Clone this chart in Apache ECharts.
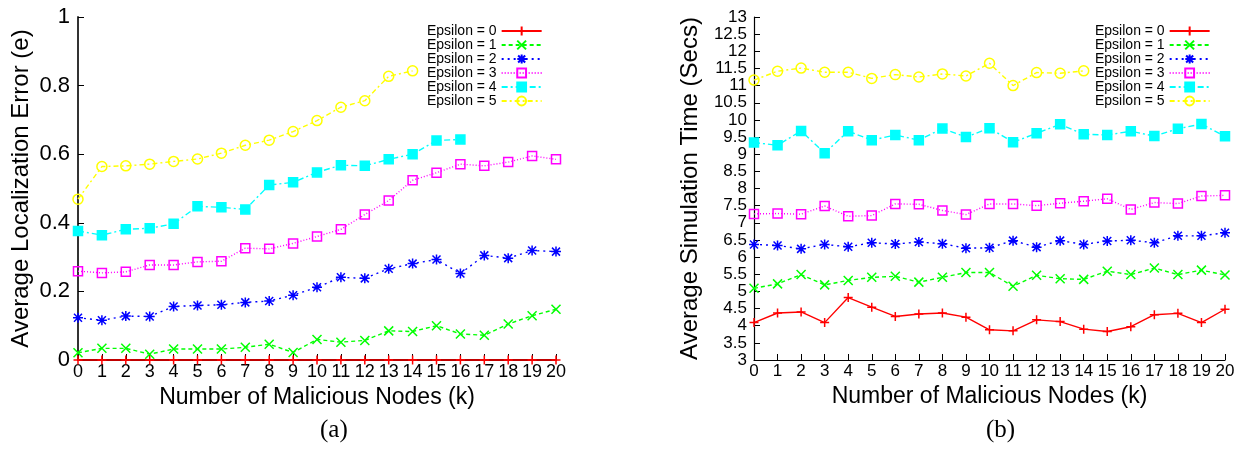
<!DOCTYPE html>
<html>
<head>
<meta charset="utf-8">
<script src="https://cdn.jsdelivr.net/npm/echarts@6/dist/echarts.min.js"></script>
<style>
html,body{margin:0;padding:0;background:#fff;}
#chart{width:1247px;height:452px;}
</style>
</head>
<body>
<div id="chart"></div>
<script>
// x = number of malicious nodes (k)
var nodesK = [0,1,2,3,4,5,6,7,8,9,10,11,12,13,14,15,16,17,18,19,20];
var seriesNames = ['Epsilon = 0','Epsilon = 1','Epsilon = 2','Epsilon = 3','Epsilon = 4','Epsilon = 5'];

// (a) average localization error
var errEps0 = [0,0,0,0,0,0,0,0,0,0,0,0,0,0,0,0,0,0,0,0,0];
var errEps1 = [0.021,0.034,0.034,0.017,0.032,0.032,0.032,0.037,0.046,0.022,0.060,0.052,0.057,0.085,0.083,0.100,0.076,0.072,0.105,0.129,0.148];
var errEps2 = [0.123,0.116,0.128,0.127,0.156,0.159,0.161,0.168,0.172,0.189,0.212,0.241,0.238,0.266,0.281,0.293,0.252,0.305,0.297,0.319,0.316];
var errEps3 = [0.259,0.254,0.257,0.277,0.277,0.286,0.288,0.326,0.324,0.340,0.360,0.381,0.424,0.465,0.524,0.546,0.571,0.566,0.577,0.595,0.585];
var errEps4 = [0.376,0.364,0.381,0.384,0.397,0.448,0.445,0.439,0.510,0.518,0.547,0.568,0.566,0.585,0.600,0.640,0.643];
var errEps5 = [0.469,0.564,0.566,0.571,0.579,0.586,0.603,0.626,0.641,0.666,0.698,0.737,0.756,0.827,0.843];

// (b) average simulation time (secs)
var timeEps0 = [4.09,4.37,4.40,4.09,4.82,4.54,4.27,4.34,4.37,4.25,3.88,3.85,4.17,4.12,3.90,3.83,3.97,4.32,4.36,4.09,4.48];
var timeEps1 = [5.09,5.22,5.49,5.19,5.32,5.41,5.44,5.27,5.41,5.55,5.55,5.15,5.47,5.37,5.35,5.59,5.49,5.68,5.49,5.62,5.48];
var timeEps2 = [6.37,6.34,6.24,6.37,6.30,6.42,6.38,6.44,6.39,6.26,6.27,6.48,6.29,6.48,6.37,6.47,6.49,6.42,6.62,6.62,6.71];
var timeEps3 = [7.26,7.27,7.25,7.49,7.19,7.21,7.55,7.54,7.36,7.24,7.55,7.55,7.50,7.57,7.63,7.70,7.39,7.59,7.56,7.78,7.80];
var timeEps4 = [9.34,9.26,9.68,9.03,9.67,9.41,9.56,9.41,9.75,9.50,9.76,9.35,9.61,9.87,9.58,9.56,9.67,9.53,9.74,9.88,9.52];
var timeEps5 = [11.16,11.42,11.51,11.39,11.39,11.21,11.32,11.25,11.34,11.28,11.65,11.00,11.38,11.36,11.43];

var errData = [errEps0,errEps1,errEps2,errEps3,errEps4,errEps5];
var timeData = [timeEps0,timeEps1,timeEps2,timeEps3,timeEps4,timeEps5];

// gnuplot-like line/point styles
var styles = [
    {color:'#ff0000', dash:'solid', symbol:'path://M5,0L5,10M0,5L10,5', fill:'#ff0000', size:9},
    {color:'#00ff00', dash:[4,3], symbol:'path://M0,0L10,10M10,0L0,10', fill:'#00ff00', size:9},
    {color:'#0000ff', dash:[2,4], symbol:'path://M5,0L5,10M0,5L10,5M1,1L9,9M9,1L1,9', fill:'#0000ff', size:10},
    {color:'#ff00ff', dash:[1,2], symbol:'rect', fill:'rgba(255,255,255,0)', size:9},
    {color:'#00ffff', dash:[6,3,2,3], symbol:'rect', fill:'#00ffff', size:9},
    {color:'#ffff00', dash:[5,3,2,3], symbol:'circle', fill:'rgba(255,255,255,0)', size:10}
];

function pairs(ys){
    var out = [];
    for (var i = 0; i < ys.length; i++) out.push([nodesK[i], ys[i]]);
    return out;
}

var series = [];
function addSeries(list, axisIdx){
    for (var i = 0; i < list.length; i++){
        var st = styles[i];
        series.push({
            type:'line',
            name:seriesNames[i],
            xAxisIndex:axisIdx,
            yAxisIndex:axisIdx,
            data:pairs(list[i]),
            symbol:st.symbol,
            symbolSize:st.size,
            clip:false,
            animation:false,
            lineStyle:{color:st.color, width:1.4, type:st.dash},
            itemStyle:{color:st.fill, borderColor:st.color, borderWidth:1.5}
        });
    }
}
addSeries(errData, 0);
addSeries(timeData, 1);

var tickFont = 'Liberation Sans';

function xAxisOpt(gridIdx, fontSize, lineW){
    return {
        type:'value', gridIndex:gridIdx, min:0, max:20, interval:1,
        name:'Number of Malicious Nodes (k)', nameLocation:'middle', nameGap:15,
        nameTextStyle:{fontSize:23, color:'#000', fontFamily:tickFont},
        axisLine:{lineStyle:{color:'#000', width:lineW}},
        axisTick:{inside:true, length:6, lineStyle:{color:'#000'}},
        axisLabel:{fontSize:fontSize, color:'#000', margin:3, fontFamily:tickFont},
        splitLine:{show:false}
    };
}

function legendOpt(left){
    return {
        orient:'vertical', left:left, top:24, align:'right', padding:0,
        itemWidth:40, itemHeight:11, itemGap:0,
        textStyle:{fontSize:14, lineHeight:13, color:'#000', fontFamily:tickFont},
        data:seriesNames
    };
}

var option = {
    backgroundColor:'#fff',
    animation:false,
    grid:[
        {left:78, top:17, width:478, height:343},
        {left:754, top:17, width:471, height:343}
    ],
    legend:[ legendOpt(427), legendOpt(1095) ],
    xAxis:[ xAxisOpt(0, 18, 2), xAxisOpt(1, 17, 1.2) ],
    yAxis:[
        {
            type:'value', gridIndex:0, min:0, max:1, interval:0.2,
            name:'Average Localization Error (e)', nameLocation:'middle', nameGap:45,
            nameTextStyle:{fontSize:24, color:'#000', fontFamily:tickFont},
            axisLine:{lineStyle:{color:'#333', width:2}},
            axisTick:{inside:true, length:6, lineStyle:{color:'#000'}},
            axisLabel:{fontSize:22, color:'#000', margin:8, fontFamily:tickFont},
            splitLine:{show:false}
        },
        {
            type:'value', gridIndex:1, min:3, max:13, interval:0.5,
            name:'Average Simulation Time (Secs)', nameLocation:'middle', nameGap:52,
            nameTextStyle:{fontSize:24, color:'#000', fontFamily:tickFont},
            axisLine:{lineStyle:{color:'#000', width:1.2}},
            axisTick:{inside:true, length:6, lineStyle:{color:'#000'}},
            axisLabel:{fontSize:17, color:'#000', margin:7, fontFamily:tickFont},
            splitLine:{show:false}
        }
    ],
    graphic:[
        {type:'text', left:320, top:418, style:{text:'(a)', font:'25px "Liberation Serif"', fill:'#000'}},
        {type:'text', left:986, top:418, style:{text:'(b)', font:'25px "Liberation Serif"', fill:'#000'}}
    ],
    series:series
};

var myChart = echarts.init(document.getElementById('chart'));
myChart.setOption(option);
</script>
</body>
</html>
